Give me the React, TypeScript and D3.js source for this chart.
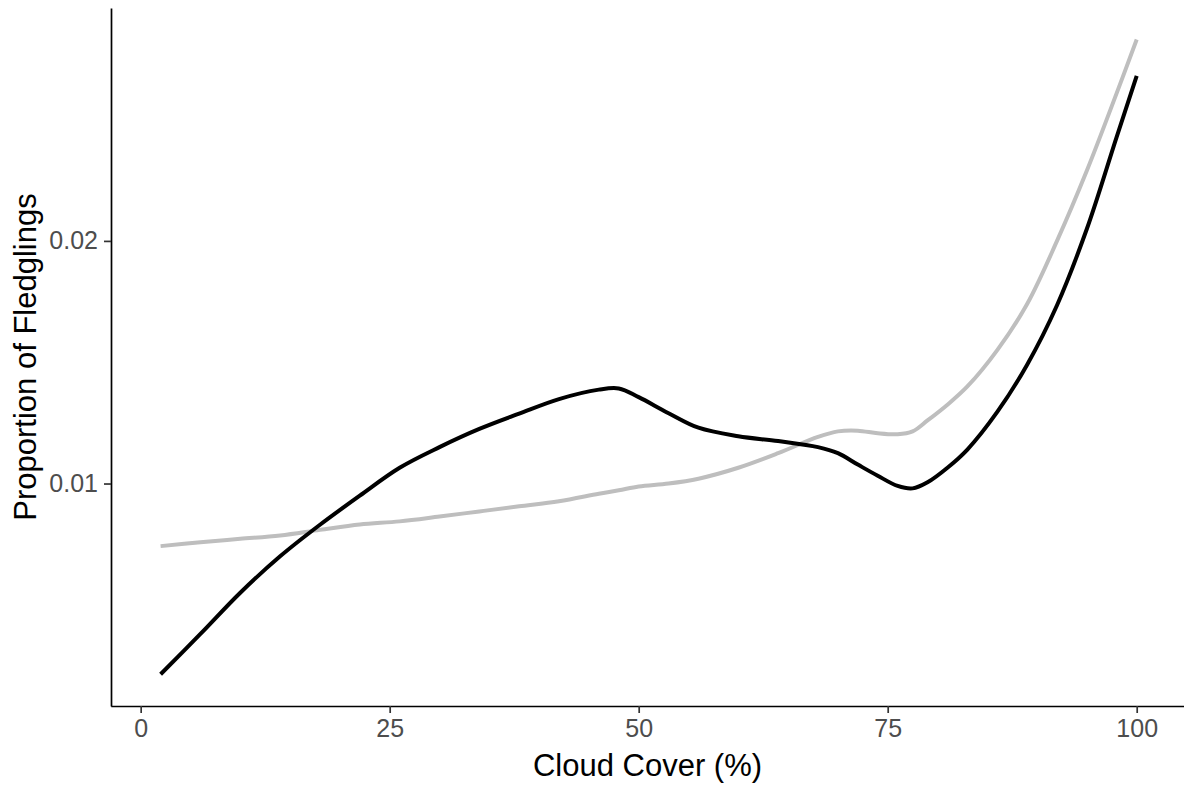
import React, { useEffect, useRef } from "react";
import * as d3 from "d3";

// shared x positions of the smoothed curves (cloud cover, %)
const cloudCover = [
  2, 6, 10, 14, 18, 22, 26, 30, 34, 38, 42, 46, 48, 50, 53, 56, 60, 64, 68, 70,
  72, 74, 76, 77.5, 79, 81, 83, 86, 89, 92, 95, 98, 100,
];

// black curve
const fledgeBlack = [
  0.00214, 0.0038, 0.0055, 0.007, 0.0083, 0.0095, 0.01065, 0.0115, 0.01225,
  0.01288, 0.01348, 0.01387, 0.01392, 0.01356, 0.0129, 0.0123, 0.01195, 0.01175,
  0.0115, 0.01125, 0.01078, 0.01032, 0.0099, 0.0098, 0.01005, 0.01065, 0.0114,
  0.01295, 0.0149, 0.01735, 0.0205, 0.0243, 0.0268,
];

// grey curve
const fledgeGrey = [
  0.00742, 0.00758, 0.00772, 0.00786, 0.00809, 0.00831, 0.00844, 0.00864,
  0.00885, 0.00906, 0.00927, 0.00958, 0.00972, 0.00988, 0.01, 0.0102, 0.01065,
  0.01125, 0.01192, 0.01215, 0.01218, 0.01207, 0.01203, 0.01215, 0.0126,
  0.01325, 0.014, 0.0155, 0.0174, 0.02, 0.0229, 0.0261, 0.0283,
];

const xTicks = [0, 25, 50, 75, 100];
const yTicks = [0.01, 0.02];

const App: React.FC = () => {
  const svgRef = useRef<SVGSVGElement | null>(null);

  useEffect(() => {
    if (!svgRef.current) return;
    const svg = d3.select(svgRef.current);
    svg.selectAll("*").remove();

    const width = 1184;
    const height = 785;
    const font = "'Liberation Sans', Arial, sans-serif";

    const left = 111;
    const top = 8;
    const bottom = 706;

    const x = d3.scaleLinear().domain([-3, 105]).range([110.8, 1186.5]);
    const y = d3.scaleLinear().domain([0.00083, 0.0296]).range([bottom, top]);

    svg.attr("width", width).attr("height", height);

    const line = d3
      .line<number>()
      .x((_, i) => x(cloudCover[i]))
      .y((d) => y(d))
      .curve(d3.curveCatmullRom.alpha(0.5));

    svg
      .append("path")
      .attr("d", line(fledgeGrey) || "")
      .attr("fill", "none")
      .attr("stroke", "#BEBEBE")
      .attr("stroke-width", 4);

    svg
      .append("path")
      .attr("d", line(fledgeBlack) || "")
      .attr("fill", "none")
      .attr("stroke", "#000")
      .attr("stroke-width", 4);

    // x axis
    const xAxis = svg
      .append("g")
      .attr("transform", `translate(0,${bottom})`)
      .call(
        d3
          .axisBottom(x)
          .tickValues(xTicks)
          .tickSize(7)
          .tickPadding(6)
          .tickSizeOuter(0)
      );
    xAxis.select(".domain").attr("stroke", "#000").attr("stroke-width", 1.7);
    xAxis.selectAll(".tick line").attr("stroke", "#333").attr("stroke-width", 1.7);
    xAxis
      .selectAll(".tick text")
      .attr("fill", "#4D4D4D")
      .style("font-family", font)
      .style("font-size", "25px");

    // y axis
    const yAxis = svg
      .append("g")
      .attr("transform", `translate(${left},0)`)
      .call(
        d3
          .axisLeft(y)
          .tickValues(yTicks)
          .tickFormat(d3.format(".2f"))
          .tickSize(7)
          .tickPadding(6)
          .tickSizeOuter(0)
      );
    yAxis.select(".domain").attr("stroke", "#000").attr("stroke-width", 1.7);
    yAxis.selectAll(".tick line").attr("stroke", "#333").attr("stroke-width", 1.7);
    yAxis
      .selectAll(".tick text")
      .attr("fill", "#4D4D4D")
      .style("font-family", font)
      .style("font-size", "25px");

    // titles
    svg
      .append("text")
      .attr("x", (left + width) / 2)
      .attr("y", 776)
      .attr("text-anchor", "middle")
      .style("font-family", font)
      .style("font-size", "31px")
      .attr("fill", "#000")
      .text("Cloud Cover (%)");

    svg
      .append("text")
      .attr("transform", `translate(36,${(top + bottom) / 2}) rotate(-90)`)
      .attr("text-anchor", "middle")
      .style("font-family", font)
      .style("font-size", "31px")
      .attr("fill", "#000")
      .text("Proportion of Fledglings");
  }, []);

  return (
    <svg
      ref={svgRef}
      style={{ position: "absolute", left: 0, top: 0, background: "#fff" }}
    ></svg>
  );
};

export default App;
